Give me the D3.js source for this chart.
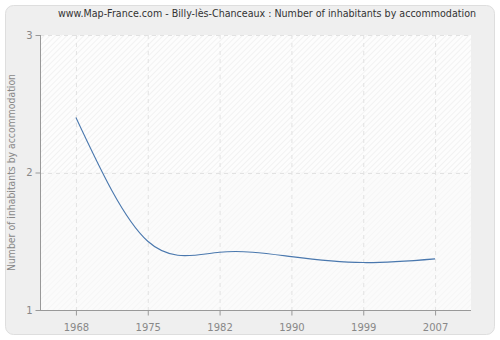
<!DOCTYPE html>
<html><head><meta charset="utf-8">
<script src="https://cdn.jsdelivr.net/npm/d3@7"></script>
<style>body{margin:0;background:#fff}svg{display:block}text{font-family:"DejaVu Sans",Verdana,sans-serif}</style>
</head><body>
<script>
const years = ["1968","1975","1982","1990","1999","2007"];
const values = [2.40, 1.50, 1.42, 1.388, 1.345, 1.372];
const yTicks = [1, 2, 3];
const title = "www.Map-France.com - Billy-lès-Chanceaux : Number of inhabitants by accommodation";
const yLabel = "Number of inhabitants by accommodation";

const W = 500, H = 340;
const svg = d3.select("body").append("svg").attr("width", W).attr("height", H);
const defs = svg.append("defs");
const p1 = defs.append("pattern").attr("id","hatchA").attr("width",4).attr("height",4)
  .attr("patternUnits","userSpaceOnUse").attr("patternTransform","rotate(45)");
p1.append("rect").attr("width",4).attr("height",4).attr("fill","#fdfdfd");
p1.append("line").attr("x1",0).attr("y1",0).attr("x2",0).attr("y2",4).attr("stroke","#ececec").attr("stroke-width",1.2);
const p2 = defs.append("pattern").attr("id","hatchB").attr("width",4).attr("height",4)
  .attr("patternUnits","userSpaceOnUse").attr("patternTransform","rotate(45)");
p2.append("rect").attr("width",4).attr("height",4).attr("fill","#fbfbfb");
p2.append("line").attr("x1",0).attr("y1",0).attr("x2",0).attr("y2",4).attr("stroke","#f3f3f3").attr("stroke-width",1.2);

svg.append("rect").attr("x",5.5).attr("y",5.5).attr("width",489).attr("height",329)
  .attr("rx",8).attr("fill","#efefef").attr("stroke","#dedede");

const m = {l:40, r:471, t:35, b:310};
const x = d3.scalePoint().domain(years).range([m.l, m.r]).padding(0.5);
const y = d3.scaleLinear().domain([1,3]).range([m.b, m.t]);

svg.append("rect").attr("x",m.l).attr("y",m.t).attr("width",m.r-m.l).attr("height",y(2)-m.t).attr("fill","url(#hatchA)");
svg.append("rect").attr("x",m.l).attr("y",y(2)).attr("width",m.r-m.l).attr("height",m.b-y(2)).attr("fill","url(#hatchB)");

const g = svg.append("g");
g.selectAll("line.vg").data(years).join("line").attr("class","vg")
  .attr("x1",d=>x(d)+0.5).attr("x2",d=>x(d)+0.5).attr("y1",m.t).attr("y2",m.b)
  .attr("stroke","#e2e2e2").attr("stroke-dasharray","4,4");
g.selectAll("line.hg").data(yTicks.filter(v=>v>1)).join("line").attr("class","hg")
  .attr("x1",m.l).attr("x2",m.r).attr("y1",d=>Math.round(y(d))+0.5).attr("y2",d=>Math.round(y(d))+0.5)
  .attr("stroke","#e2e2e2").attr("stroke-dasharray","4,4");

const line = d3.line().x((d,i)=>x(years[i])).y(d=>y(d)).curve(d3.curveNatural);
svg.append("path").datum(values).attr("d",line).attr("fill","none").attr("stroke","#4a78ae").attr("stroke-width",1.1);

const xa = svg.append("g").attr("transform",`translate(0,${m.b+0.5})`)
  .call(d3.axisBottom(x).tickSize(5).tickSizeOuter(0));
const ya = svg.append("g").attr("transform",`translate(${m.l+0.5},0)`)
  .call(d3.axisLeft(y).tickValues(yTicks).tickFormat(d3.format("d")).tickSize(5).tickSizeOuter(0));
[xa, ya].forEach(a=>{
  a.select(".domain").attr("stroke","#999");
  a.selectAll(".tick line").attr("stroke","#999");
  a.selectAll("text").attr("fill","#888").style("font-size","10px").style("font-family","'DejaVu Sans',Verdana,sans-serif");
});
xa.select(".domain").attr("d",`M${m.l},0H${m.r}`);
ya.select(".domain").attr("d",`M0,${m.b}V${m.t}`);
xa.selectAll("text").attr("dy","1.2em");

svg.append("text").attr("x",267).attr("y",17).attr("text-anchor","middle")
  .attr("fill","#333").style("font-size","10px").attr("textLength",418).attr("lengthAdjust","spacingAndGlyphs").text(title);
svg.append("text").attr("transform",`translate(15,${(m.t+m.b)/2}) rotate(-90)`).attr("text-anchor","middle")
  .attr("fill","#888").style("font-size","10.5px").attr("textLength",197).attr("lengthAdjust","spacingAndGlyphs").text(yLabel);
</script>
</body></html>
